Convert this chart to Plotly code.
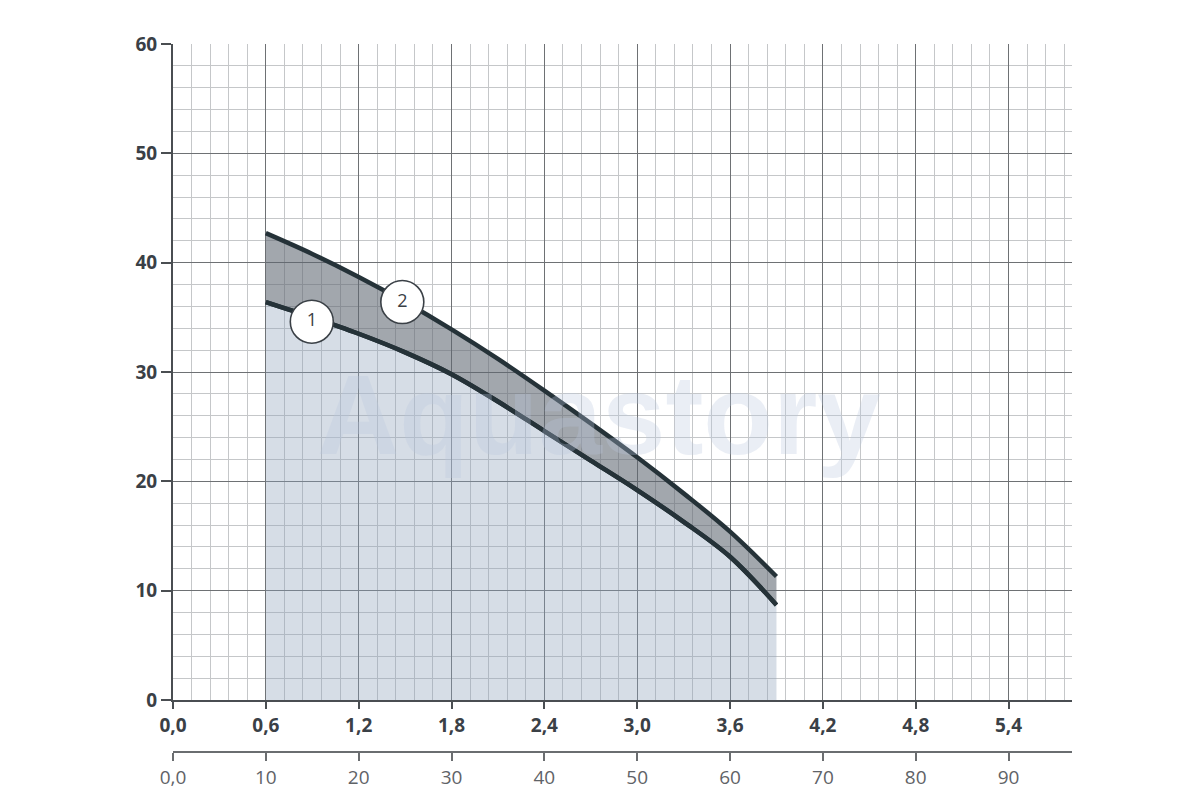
import plotly.graph_objects as go

# Flow (m³/h) and head (m)
flow = [0.6, 0.9, 1.2, 1.5, 1.8, 2.1, 2.4, 2.7, 3.0, 3.3, 3.6, 3.9]
head_1 = [36.4, 35.0, 33.5, 31.8, 29.8, 27.3, 24.6, 21.9, 19.2, 16.3, 13.1, 8.7]
head_2 = [42.7, 40.8, 38.7, 36.4, 33.9, 31.2, 28.3, 25.3, 22.2, 18.9, 15.4, 11.3]

# Curve label badges
badge_text = ["1", "2"]
badge_x = [0.897, 1.482]
badge_y = [34.6, 36.4]

# Axis ticks
x_tickvals = [0.0, 0.6, 1.2, 1.8, 2.4, 3.0, 3.6, 4.2, 4.8, 5.4]
x_ticktext = ["0,0", "0,6", "1,2", "1,8", "2,4", "3,0", "3,6", "4,2", "4,8", "5,4"]
x2_tickvals = [0, 10, 20, 30, 40, 50, 60, 70, 80, 90]
x2_ticktext = ["0,0", "10", "20", "30", "40", "50", "60", "70", "80", "90"]
y_tickvals = [0, 10, 20, 30, 40, 50, 60]

XMAX = 5.81
LINE = "#253238"
MAJOR = "#6e7174"
MINOR = "#c5c7c9"
SMOOTH = 1.0

fig = go.Figure()

# curve 1 with light area beneath
fig.add_trace(go.Scatter(
    x=flow, y=head_1, mode="lines",
    line=dict(color=LINE, width=4.5, shape="spline", smoothing=SMOOTH),
    fill="tozeroy", fillcolor="rgba(140,160,185,0.36)",
    showlegend=False))

# curve 2 with darker band down to curve 1
fig.add_trace(go.Scatter(
    x=flow, y=head_2, mode="lines",
    line=dict(color=LINE, width=4.5, shape="spline", smoothing=SMOOTH),
    fill="tonexty", fillcolor="rgba(95,103,113,0.58)",
    showlegend=False))

# redraw curve 1 on top of the band
fig.add_trace(go.Scatter(
    x=flow, y=head_1, mode="lines",
    line=dict(color=LINE, width=4.5, shape="spline", smoothing=SMOOTH),
    showlegend=False))

# badges
fig.add_trace(go.Scatter(
    x=badge_x, y=badge_y, mode="markers+text", text=badge_text,
    textposition="middle center",
    textfont=dict(family="Open Sans", size=18, color="#3a4046"),
    marker=dict(size=43, color="white", line=dict(color="#3a4046", width=1.6)),
    showlegend=False))

# invisible trace for secondary axis
fig.add_trace(go.Scatter(x=[0, XMAX / 0.6 * 10], y=[None, None], xaxis="x2",
                         mode="lines", showlegend=False, hoverinfo="skip"))

fig.add_annotation(
    text="Aquastory", x=2.754, y=26.1, xref="x", yref="y",
    showarrow=False,
    font=dict(family="Liberation Sans", size=114, color="rgba(185,200,222,0.30)", weight="bold"))

fig.update_layout(
    width=1200, height=800,
    margin=dict(l=165, r=136, t=36, b=56),
    paper_bgcolor="white", plot_bgcolor="white",
    xaxis=dict(
        range=[0, XMAX], tickvals=x_tickvals, ticktext=x_ticktext,
        showgrid=True, gridcolor=MAJOR, gridwidth=1.3,
        zeroline=False, showline=True, linecolor="#4a4e52", linewidth=2,
        ticks="outside", ticklen=7, tickcolor="#4a4e52", tickwidth=2,
        tickfont=dict(family="Open Sans", size=19, color="#3a4046", weight="bold"),
        minor=dict(tick0=0, dtick=0.12, showgrid=True, gridcolor=MINOR, gridwidth=1, ticks=""),
        anchor="y", fixedrange=True),
    xaxis2=dict(
        range=[0, XMAX / 0.6 * 10], tickvals=x2_tickvals, ticktext=x2_ticktext,
        overlaying="x", side="bottom", anchor="free", position=0,
        showgrid=False, zeroline=False, showline=True, linecolor="#6a6d70", linewidth=2,
        ticks="outside", ticklen=8, tickcolor="#6a6d70", tickwidth=1.5,
        tickfont=dict(family="Open Sans", size=19, color="#5f6367"),
        fixedrange=True),
    yaxis=dict(
        range=[0, 60], tickvals=y_tickvals, domain=[0.0734, 1],
        showgrid=True, gridcolor=MAJOR, gridwidth=1.3,
        zeroline=False, showline=True, linecolor="#4a4e52", linewidth=2,
        ticks="outside", ticklen=10, tickcolor="#4a4e52", tickwidth=1.5,
        tickfont=dict(family="Open Sans", size=19, color="#3a4046", weight="bold"),
        minor=dict(tick0=0, dtick=2, showgrid=True, gridcolor=MINOR, gridwidth=1, ticks=""),
        fixedrange=True),
)

fig.write_html("out.html")
